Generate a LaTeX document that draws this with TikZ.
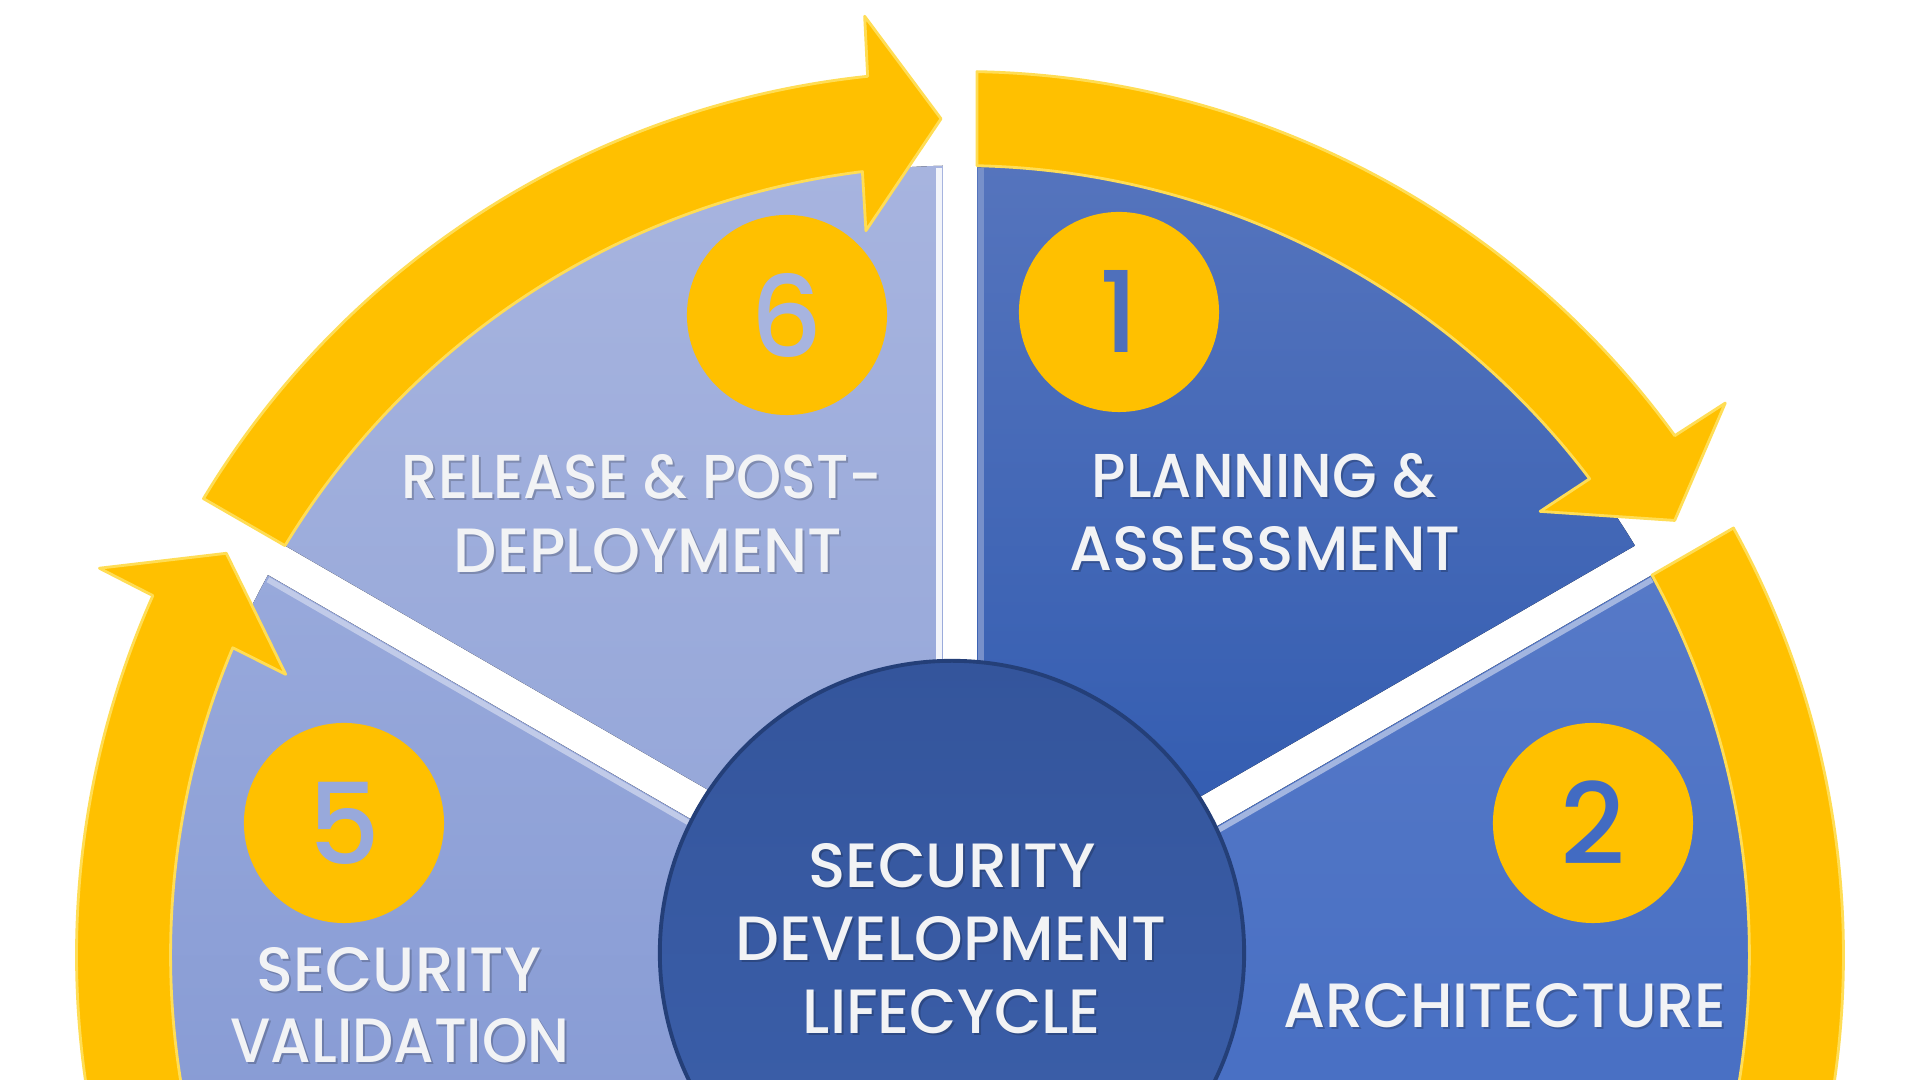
\documentclass[tikz,border=0pt]{standalone}
\usepackage{fontspec}
\usepackage{graphicx}
\newfontfamily\lblfont{Poppins}[UprightFont=* Medium]

\definecolor{ringyellow}{HTML}{FFC000}
\definecolor{ringlight}{HTML}{FFDD55}
\definecolor{planTop}{HTML}{5574BD}
\definecolor{planBot}{HTML}{2E59AF}
\definecolor{archTop}{HTML}{5679C7}
\definecolor{archBot}{HTML}{426BC2}
\definecolor{relTop}{HTML}{A7B4DF}
\definecolor{relBot}{HTML}{93A5D8}
\definecolor{valTop}{HTML}{98A9DB}
\definecolor{valBot}{HTML}{8196D2}
\definecolor{hubTop}{HTML}{34559C}
\definecolor{hubBot}{HTML}{3C60AB}
\definecolor{hubRim}{HTML}{243F78}
\definecolor{labelWhite}{HTML}{F2F3F5}

\newdimen\pxu \pxu=0.01cm

% wedge between boundary angles #1 > #2, kept 0.17cm off each boundary ray
\newcommand{\stagewedge}[4]{%
  \fill[top color=#3, bottom color=#4]
    ({(#1+#2)/2}:0.34cm) -- ({#1-1.235}:7.89cm)
    arc[start angle={#1-1.235}, end angle={#2+1.235}, radius=7.89cm] -- cycle;}

% curved yellow arrow running clockwise from boundary #1 to boundary #2
\newcommand{\ringarrow}[2]{%
  \fill[ringarrow]
    ({#1-1.10}:8.83cm)
    arc[start angle={#1-1.10}, end angle={#2+6.0}, radius=8.83cm]
    -- ({#2+5.8}:9.43cm) -- ({#2+1.3}:8.36cm) -- ({#2+7.4}:7.30cm) -- ({#2+7.1}:7.89cm)
    arc[start angle={#2+7.1}, end angle={#1-1.235}, radius=7.89cm] -- cycle;}

% one line of label text with its soft shadow
\newcommand{\capline}[5]{%
  \node[lblshadow] (#1s) at (#2+2,#3-2) {\resizebox{#4\pxu}{0.44cm}{\lblfont #5}};
  \node[lbl] (#1) at (#2,#3) {\resizebox{#4\pxu}{0.44cm}{\lblfont #5}};}

\tikzset{
  ringarrow/.style={fill=ringyellow, draw=ringlight, line width=0.8pt, line join=round},
  bevel/.style={line width=1.6pt, line cap=butt},
  lbl/.style={inner sep=0pt, text=labelWhite},
  lblshadow/.style={inner sep=0pt, text=black, opacity=0.2},
  badge/.style={circle, fill=ringyellow, minimum size=2cm, inner sep=0pt,
    font=\lblfont\fontsize{32}{32}\selectfont},
  hub/.style={circle, minimum size=5.84cm, inner sep=0pt,
    top color=hubTop, bottom color=hubBot, draw=hubRim, line width=1.1pt}
}

\begin{document}
\begin{tikzpicture}[x=0.01cm, y=0.01cm]
  \useasboundingbox (-960,-125) rectangle (960,955);
  \clip (-960,-125) rectangle (960,955);
  \fill[white] (-960,-125) rectangle (960,955);

  % the four visible wedges
  \stagewedge{90}{30}{planTop}{planBot}
  \stagewedge{30}{-30}{archTop}{archBot}
  \stagewedge{150}{90}{relTop}{relBot}
  \stagewedge{210}{150}{valTop}{valBot}

  % light bevels along the upper edges of the wedges
  \draw[bevel, white!85!relTop, rotate=90] (40,21) -- (787,21);
  \draw[bevel, planTop!80!white, rotate=90] (40,-21) -- (787,-21);
  \draw[bevel, archTop!55!white, rotate=30] (40,-21) -- (787,-21);
  \draw[bevel, valTop!60!white, rotate=150] (40,21) -- (787,21);

  % yellow ring arrows
  \ringarrow{90}{30}
  \ringarrow{30}{-30}
  \ringarrow{150}{90}
  \ringarrow{210}{150}

  % numbered badges
  \node[badge, text=relTop] (b6) at (-173,640) {6};
  \node[badge, text=planTop!85!planBot] (b1) at (159,643) {1};
  \node[badge, text=valTop] (b5) at (-616,132) {5};
  \node[badge, text=archBot] (b2) at (633,132) {2};

  % stage labels
  \capline{l6a}{-318}{478}{480}{RELEASE \& POST-}
  \capline{l6b}{-312}{404}{388}{DEPLOYMENT}
  \capline{l1a}{304}{479}{344}{PLANNING \&}
  \capline{l1b}{305}{406}{391}{ASSESSMENT}
  \capline{l5a}{-561}{-15}{284}{SECURITY}
  \capline{l5b}{-560}{-86}{339}{VALIDATION}
  \capline{l2a}{545}{-51}{443}{ARCHITECTURE}

  % central hub
  \node[hub] (hub) at (-8,2) {};
  \capline{c1}{-8}{89}{287}{SECURITY}
  \capline{c2}{-9}{16}{431}{DEVELOPMENT}
  \capline{c3}{-8}{-57}{298}{LIFECYCLE}
\end{tikzpicture}
\end{document}
